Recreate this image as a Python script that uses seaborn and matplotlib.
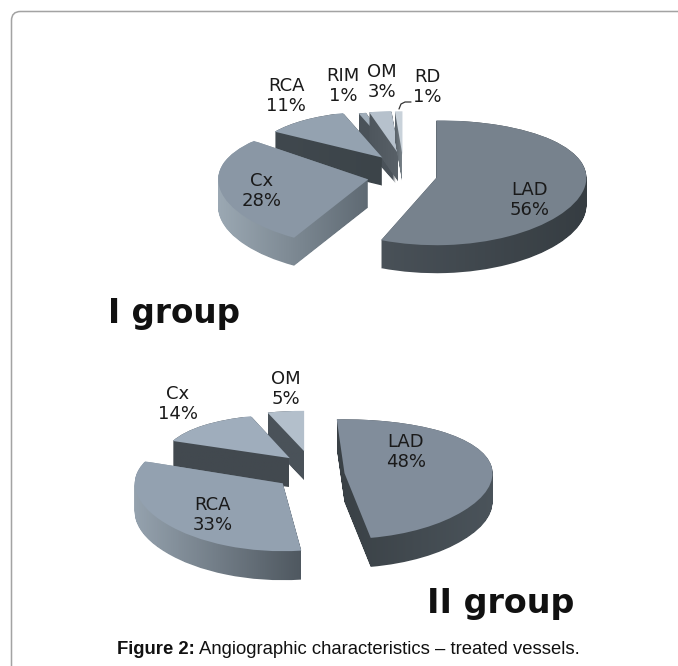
import numpy as np
import matplotlib
matplotlib.use("Agg")
import matplotlib.pyplot as plt
from matplotlib.lines import Line2D
from matplotlib.patches import FancyBboxPatch, PathPatch
from matplotlib.path import Path
from matplotlib.colors import LinearSegmentedColormap
import seaborn as sns

# ---- data ----
labels_1 = ["LAD", "Cx", "RCA", "RIM", "OM", "RD"]
values_1 = [56, 28, 11, 1, 3, 1]
labels_2 = ["LAD", "RCA", "Cx", "OM"]
values_2 = [48, 33, 14, 5]

# ---- styles ----
W, H = 678, 666
sns.set_style("white")
plt.rcParams["font.family"] = ["DejaVu Sans"]
fig = plt.figure(figsize=(W / 100, H / 100), dpi=100)


def fx(px):
    return px / W


def fy(py):
    return 1 - py / H


style_1 = dict(
    center=(401, 175), rx=150, ry=62, depth=28, persp=0.08,
    explode=[0.24, 0.23, 0.30, 0.34, 0.34, 0.33],
    radius=[1, 1, 0.85, 0.8, 0.8, 0.8],
    shift=[(0, 0), (0, 0.0), (0.06, 0.05), (0.06, 0), (0.04, 0), (0.02, 0)],
    turn=[0, -8, 0, 0, 0, 0],
    order=[3, 4, 5, 2, 1, 0],
    top=["#77828d", "#8a97a5", "#94a2b0", "#a0adb9", "#b6c1cc", "#c9d2da"],
    wall=[("#495158", "#363d42"), ("#9ba8b3", "#5f6a73"), ("#40484e", "#3c4449"),
          ("#4a5259", "#4a5259"), ("#4e565d", "#596168"), ("#5a636a", "#7d868d")],
)
style_2 = dict(
    center=(312, 474), rx=148, ry=60, depth=29, persp=0.10,
    explode=[0.22, 0.25, 0.263, 0.34],
    radius=[1, 1, 0.85, 0.8],
    shift=[(0, 0), (0, 0.0), (0.03, 0.08), (0, 0.06)],
    turn=[3, 0, 0, 0],
    order=[3, 2, 1, 0],
    top=["#818d9b", "#93a1b0", "#9fadbc", "#b3bfcb"],
    wall=[("#3a4146", "#4b545b"), ("#95a2ae", "#4f5860"), ("#42494f", "#42494f"),
          ("#4a5259", "#4a5259")],
)


def pie3d(values, st):
    cx, cy = st["center"]
    rx, ry, a = st["rx"], st["ry"], st["persp"]
    mx, my = 1.6, 2.2

    def f(y):
        y = np.asarray(y, dtype=float)
        return y * (1 - a * y)

    def finv(v):
        v = np.asarray(v, dtype=float)
        return (1 - np.sqrt(np.clip(1 - 4 * a * v, 1e-9, None))) / (2 * a)

    f_lo, f_hi = float(f(-my)), float(f(my))
    ax = fig.add_axes([fx(cx - mx * rx), fy(cy - f_lo * ry), 2 * mx * rx / W,
                       (f_hi - f_lo) * ry / H])
    ax.patch.set_alpha(0)
    wedges, _ = ax.pie(values, explode=st["explode"], startangle=90, counterclock=False,
                       colors=st["top"], wedgeprops=dict(linewidth=0))
    ax.set_aspect("auto")
    ax.set_yscale("function", functions=(f, finv))
    for w, r, (dx, dy), t in zip(wedges, st["radius"], st["shift"], st["turn"]):
        w.set_radius(r)
        w.set_center((w.center[0] + dx, w.center[1] + dy))
        w.set_theta1(w.theta1 + t)
        w.set_theta2(w.theta2 + t)
    n = st["depth"]
    for z, i in enumerate(st["order"]):
        w = wedges[i]
        base = w.get_path()
        paths = []
        for k in range(n + 1):
            vv = base.vertices.copy()
            vv[:, 1] = finv(f(vv[:, 1]) - k / ry)
            paths.append(Path(vv, base.codes))
        compound = Path.make_compound_path(*paths)
        x0, y0 = compound.vertices.min(axis=0)
        x1, y1 = compound.vertices.max(axis=0)
        cmap = LinearSegmentedColormap.from_list("w", st["wall"][i])
        im = ax.imshow(np.linspace(0, 1, 64)[None, :], extent=(x0, x1, y0, y1), cmap=cmap,
                       aspect="auto", zorder=2 * z + 1)
        im.set_clip_path(PathPatch(compound, transform=ax.transData))
        w.set_zorder(2 * z + 2)
    ax.set_xlim(-mx, mx)
    ax.set_ylim(-my, my)
    ax.set_axis_off()
    return ax


pie3d(values_1, style_1)
pie3d(values_2, style_2)

# ---- text ----
label_pos_1 = [(530, 200), (262, 191), (286, 96), (343, 86), (382, 82), (427, 87)]
label_pos_2 = [(406, 452), (213, 515), (178, 404), (286, 389)]
for labels, values, pos in [(labels_1, values_1, label_pos_1), (labels_2, values_2, label_pos_2)]:
    for lab, v, (px, py) in zip(labels, values, pos):
        fig.text(fx(px), fy(py), f"{lab}\n{v}%", ha="center", va="center", fontsize=13,
                 linespacing=1.1, color="#1a1a1a")

fig.text(fx(174), fy(313), "I group", ha="center", va="center", fontsize=23.5,
         fontweight="bold", color="#111111")
fig.text(fx(501), fy(603), "II group", ha="center", va="center", fontsize=24,
         fontweight="bold", color="#111111")

cap = fig.text(fx(117), fy(650), "Figure 2:", ha="left", va="center", fontsize=13.35,
               fontweight="bold", family="Liberation Sans", color="#111111")
fig.canvas.draw()
bb = cap.get_window_extent()
fig.text((bb.x1 + 4.5) / W, fy(650), "Angiographic characteristics – treated vessels.", ha="left",
         va="center", fontsize=13.35, family="Liberation Sans", color="#111111")

# leader line for RD
fig.add_artist(Line2D([fx(399), fx(401), fx(405), fx(411)], [fy(109), fy(104), fy(102), fy(102)],
                      color="#333333", lw=0.9))

# card frame running off the right and bottom edges
bg = fig.add_axes([0, 0, 1, 1], zorder=-1)
bg.set_xlim(0, W)
bg.set_ylim(H, 0)
bg.set_axis_off()
bg.add_patch(FancyBboxPatch((20, 20), W + 50, H + 50, boxstyle="round,pad=8.5,rounding_size=9",
                            fc="white", ec="#a3a3a3", lw=1.1))

fig.savefig("out.png", dpi=100)
